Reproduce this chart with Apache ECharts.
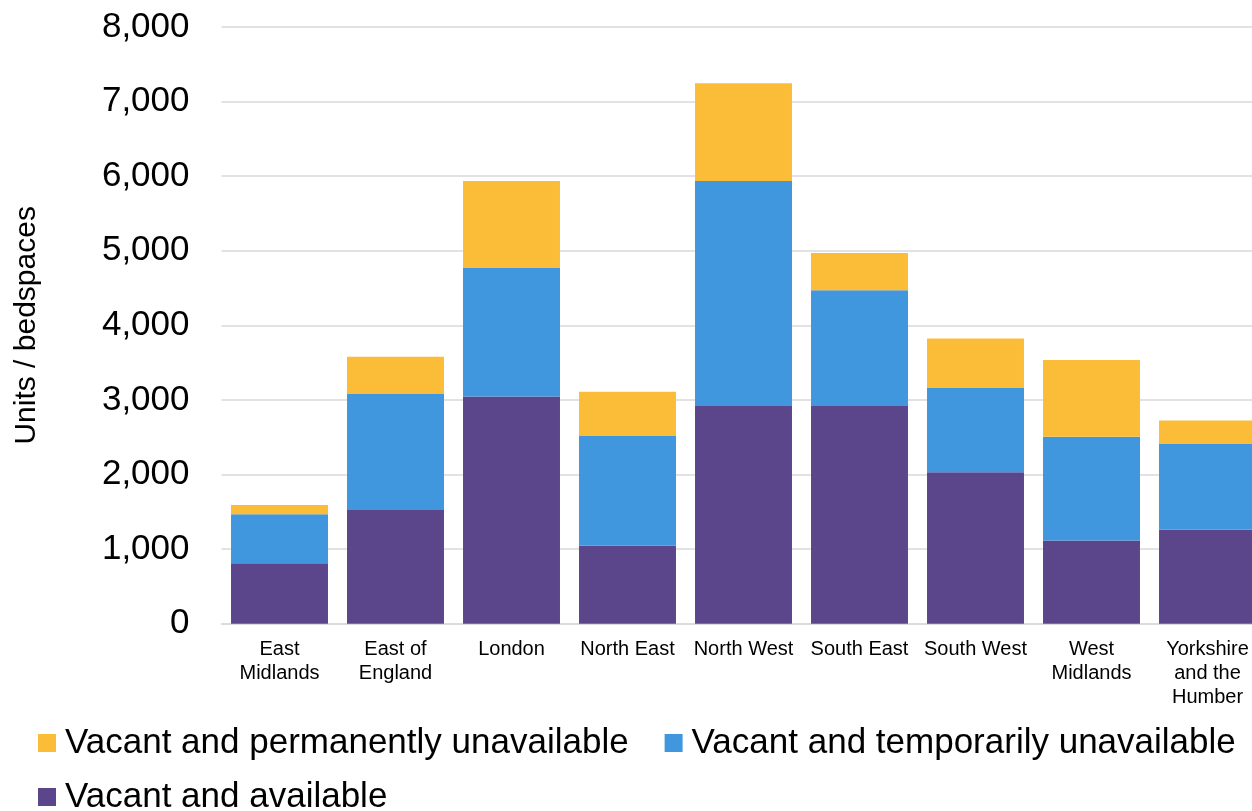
<!DOCTYPE html>
<html>
<head>
<meta charset="utf-8">
<script src="https://cdn.jsdelivr.net/npm/echarts@6/dist/echarts.min.js"></script>
<style>
  html, body { margin: 0; padding: 0; background: #ffffff; overflow: hidden; }
  #chart { width: 1270px; height: 811px; }
</style>
</head>
<body>
<div id="chart"></div>
<script>
// Regions (x-axis categories)
const regions = [
  'East\nMidlands', 'East of\nEngland', 'London', 'North East', 'North West',
  'South East', 'South West', 'West\nMidlands', 'Yorkshire\nand the\nHumber'
];

// Units / bedspaces by vacancy status
const vacantAvailable = [810, 1525, 3045, 1045, 2920, 2920, 2030, 1115, 1260];
const vacantTemporarily = [656, 1555, 1725, 1470, 3015, 1550, 1130, 1390, 1155];
const vacantPermanently = [125, 500, 1165, 595, 1310, 500, 665, 1030, 310];

const seriesNames = {
  permanent: 'Vacant and permanently unavailable',
  temporary: 'Vacant and temporarily unavailable',
  available: 'Vacant and available'
};

const colors = {
  available: '#5b468c',
  temporary: '#4197dd',
  permanent: '#fbbd38'
};

const FONT = '"Liberation Sans", Arial, Helvetica, sans-serif';

const chart = echarts.init(document.getElementById('chart'), null, { renderer: 'canvas' });

const legendText = {
  fontFamily: FONT, fontSize: 35, color: '#000000', lineHeight: 36,
  padding: [0, 0, 0, 4]
};

chart.setOption({
  animation: false,
  backgroundColor: '#ffffff',
  textStyle: { fontFamily: FONT },
  grid: { left: 221.5, top: 27, width: 1044, height: 596.7, containLabel: false },
  legend: [
    {
      data: [seriesNames.permanent, seriesNames.temporary],
      left: 38, top: 725, width: 1230, orient: 'horizontal', padding: 0,
      itemWidth: 18, itemHeight: 18, itemGap: 36,
      icon: 'rect', textStyle: legendText,
      selectedMode: false
    },
    {
      data: [seriesNames.available],
      left: 38, top: 779, width: 1230, orient: 'horizontal', padding: 0,
      itemWidth: 18, itemHeight: 18, itemGap: 36,
      icon: 'rect', textStyle: legendText,
      selectedMode: false
    }
  ],
  xAxis: {
    type: 'category',
    data: regions,
    axisLine: { show: true, lineStyle: { color: '#d9d9d9', width: 1.5 } },
    axisTick: { show: false },
    axisLabel: {
      interval: 0, margin: 14, color: '#000000',
      fontFamily: FONT, fontSize: 20, lineHeight: 24
    }
  },
  yAxis: {
    type: 'value',
    min: 0, max: 8000, interval: 1000,
    name: 'Units / bedspaces',
    nameLocation: 'middle',
    nameGap: 180,
    nameTextStyle: { fontFamily: FONT, fontSize: 30, color: '#000000' },
    axisLine: { show: false },
    axisTick: { show: false },
    axisLabel: {
      margin: 32, color: '#000000', fontFamily: FONT, fontSize: 35,
      formatter: v => v.toLocaleString('en-GB')
    },
    splitLine: { lineStyle: { color: '#d9d9d9', width: 1.5 } }
  },
  series: [
    {
      name: seriesNames.available, type: 'bar', stack: 'total',
      data: vacantAvailable, barCategoryGap: '16.4%',
      itemStyle: { color: colors.available }
    },
    {
      name: seriesNames.temporary, type: 'bar', stack: 'total',
      data: vacantTemporarily, barCategoryGap: '16.4%',
      itemStyle: { color: colors.temporary }
    },
    {
      name: seriesNames.permanent, type: 'bar', stack: 'total',
      data: vacantPermanently, barCategoryGap: '16.4%',
      itemStyle: { color: colors.permanent }
    }
  ]
});
</script>
</body>
</html>
